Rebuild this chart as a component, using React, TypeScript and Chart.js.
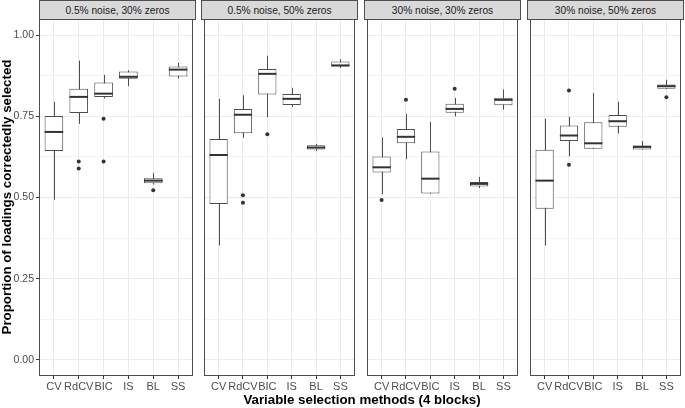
import React, { useEffect, useRef } from 'react';
import { Chart, registerables } from 'chart.js';

Chart.register(...registerables);

// ---------------- data ----------------
const methods = ['CV', 'RdCV', 'BIC', 'IS', 'BL', 'SS'];
const panelTitles = [
  '0.5% noise, 30% zeros',
  '0.5% noise, 50% zeros',
  '30% noise, 30% zeros',
  '30% noise, 50% zeros',
];
const yMajorTicks = [0, 0.25, 0.5, 0.75, 1];
const yMinorTicks = [0.125, 0.375, 0.625, 0.875];

// Panel 1: 0.5% noise, 30% zeros
const p1Low = [0.493, 0.727, 0.805, 0.843, 0.54, 0.866];
const p1Q1 = [0.643, 0.76, 0.81, 0.866, 0.544, 0.873];
const p1Median = [0.702, 0.81, 0.82, 0.872, 0.552, 0.894];
const p1Q3 = [0.751, 0.835, 0.854, 0.888, 0.559, 0.904];
const p1High = [0.795, 0.922, 0.878, 0.892, 0.576, 0.915];
const p1OutlierMethod = ['RdCV', 'RdCV', 'BIC', 'BIC', 'BL'];
const p1OutlierValue = [0.611, 0.589, 0.743, 0.611, 0.522];

// Panel 2: 0.5% noise, 50% zeros
const p2Low = [0.352, 0.684, 0.748, 0.779, 0.643, 0.899];
const p2Q1 = [0.48, 0.698, 0.817, 0.785, 0.648, 0.904];
const p2Median = [0.631, 0.755, 0.881, 0.804, 0.654, 0.907];
const p2Q3 = [0.68, 0.773, 0.896, 0.819, 0.661, 0.919];
const p2High = [0.804, 0.815, 0.937, 0.838, 0.665, 0.926];
const p2OutlierMethod = ['RdCV', 'RdCV', 'BIC'];
const p2OutlierValue = [0.507, 0.484, 0.695];

// Panel 3: 30% noise, 30% zeros
const p3Low = [0.51, 0.618, 0.512, 0.75, 0.529, 0.771];
const p3Q1 = [0.577, 0.667, 0.512, 0.761, 0.534, 0.784];
const p3Median = [0.593, 0.687, 0.558, 0.773, 0.542, 0.801];
const p3Q3 = [0.626, 0.711, 0.642, 0.789, 0.548, 0.807];
const p3High = [0.685, 0.758, 0.733, 0.807, 0.563, 0.833];
const p3OutlierMethod = ['CV', 'RdCV', 'IS'];
const p3OutlierValue = [0.492, 0.801, 0.835];

// Panel 4: 30% noise, 50% zeros
const p4Low = [0.352, 0.627, 0.65, 0.697, 0.648, 0.835];
const p4Q1 = [0.465, 0.674, 0.65, 0.718, 0.648, 0.835];
const p4Median = [0.552, 0.691, 0.667, 0.735, 0.656, 0.843];
const p4Q3 = [0.647, 0.722, 0.732, 0.754, 0.66, 0.848];
const p4High = [0.743, 0.749, 0.822, 0.795, 0.674, 0.863];
const p4OutlierMethod = ['RdCV', 'RdCV', 'SS'];
const p4OutlierValue = [0.83, 0.601, 0.809];

const panels = [
  { low: p1Low, q1: p1Q1, med: p1Median, q3: p1Q3, high: p1High, om: p1OutlierMethod, ov: p1OutlierValue },
  { low: p2Low, q1: p2Q1, med: p2Median, q3: p2Q3, high: p2High, om: p2OutlierMethod, ov: p2OutlierValue },
  { low: p3Low, q1: p3Q1, med: p3Median, q3: p3Q3, high: p3High, om: p3OutlierMethod, ov: p3OutlierValue },
  { low: p4Low, q1: p4Q1, med: p4Median, q3: p4Q3, high: p4High, om: p4OutlierMethod, ov: p4OutlierValue },
];

// ---------------- layout ----------------
const FONT = '"Liberation Sans", Arial, sans-serif';
const PANEL_LEFTS = [39, 201, 364, 527];
const PANEL_W = 157;
const PANEL_TOP = 19;
const PANEL_BOTTOM = 376;
const H = 408;

const boxPlugin = {
  id: 'boxParts',
  beforeDatasetsDraw(chart: any) {
    const p = chart.options.plugins.boxParts.panel;
    const { ctx } = chart;
    const xs = chart.scales.x;
    const ys = chart.scales.y;
    ctx.save();
    ctx.strokeStyle = '#4D4D4D';
    ctx.lineWidth = 1;
    p.low.forEach((lo: number, i: number) => {
      const x = Math.round(xs.getPixelForValue(i + 1)) + 0.5;
      ctx.beginPath();
      ctx.moveTo(x, ys.getPixelForValue(lo));
      ctx.lineTo(x, ys.getPixelForValue(p.high[i]));
      ctx.stroke();
    });
    ctx.restore();
  },
  afterDatasetsDraw(chart: any) {
    const p = chart.options.plugins.boxParts.panel;
    const { ctx, chartArea } = chart;
    const ys = chart.scales.y;
    const meta = chart.getDatasetMeta(0);
    ctx.save();
    ctx.strokeStyle = '#333333';
    ctx.lineWidth = 2;
    meta.data.forEach((bar: any, i: number) => {
      const y = ys.getPixelForValue(p.med[i]);
      ctx.beginPath();
      ctx.moveTo(bar.x - bar.width / 2, y);
      ctx.lineTo(bar.x + bar.width / 2, y);
      ctx.stroke();
    });
    // panel border
    ctx.strokeStyle = '#4D4D4D';
    ctx.lineWidth = 1;
    ctx.strokeRect(
      Math.round(chartArea.left) + 0.5,
      Math.round(chartArea.top) + 0.5,
      Math.round(chartArea.right - chartArea.left) - 1,
      Math.round(chartArea.bottom - chartArea.top) - 1
    );
    ctx.restore();
  },
};

function Panel({ index }: { index: number }) {
  const ref = useRef<HTMLCanvasElement>(null);
  const yw = index === 0 ? 38 : 0;
  const canvasLeft = PANEL_LEFTS[index] - yw - 1;
  const canvasW = PANEL_W + yw + 2;

  useEffect(() => {
    const p = panels[index];
    const boxData = methods.map((_, i) => ({ x: i + 1, y: [p.q1[i], p.q3[i]] }));
    const outData = p.om.map((m, k) => ({ x: methods.indexOf(m) + 1, y: p.ov[k] }));
    const chart = new Chart(ref.current as HTMLCanvasElement, {
      type: 'bar',
      data: {
        datasets: [
          {
            type: 'bar',
            data: boxData as any,
            backgroundColor: '#FFFFFF',
            borderColor: '#4D4D4D',
            borderWidth: 1,
            borderSkipped: false,
            barPercentage: 0.75,
            categoryPercentage: 1,
          } as any,
          {
            type: 'scatter',
            data: outData as any,
            pointRadius: 2,
            pointBackgroundColor: '#333333',
            pointBorderWidth: 0,
            backgroundColor: '#333333',
          } as any,
        ],
      },
      options: {
        responsive: false,
        animation: false,
        events: [],
        layout: { padding: { top: PANEL_TOP, left: 1, right: 1, bottom: 0 } },
        plugins: {
          legend: { display: false },
          tooltip: { enabled: false },
          boxParts: { panel: p },
        } as any,
        scales: {
          x: {
            type: 'linear',
            min: 0.4,
            max: 6.6,
            offset: false,
            afterBuildTicks: (s: any) => {
              s.ticks = methods.map((_, i) => ({ value: i + 1 }));
            },
            afterFit: (s: any) => {
              s.height = H - PANEL_BOTTOM;
            },
            ticks: {
              autoSkip: false,
              maxRotation: 0,
              padding: 1,
              color: '#4D4D4D',
              font: { family: FONT, size: 11 },
              callback: (v: any) => methods[Math.round(Number(v)) - 1],
            },
            grid: { offset: false, color: '#EBEBEB', tickLength: 3, tickColor: '#333333', drawTicks: true },
            border: { display: false },
          },
          y: {
            type: 'linear',
            min: -0.05,
            max: 1.05,
            afterBuildTicks: (s: any) => {
              s.ticks = [...yMajorTicks, ...yMinorTicks].sort((a, b) => a - b).map((v) => ({ value: v }));
            },
            afterFit: (s: any) => {
              s.width = yw;
            },
            ticks: {
              display: index === 0,
              autoSkip: false,
              padding: 2,
              color: '#4D4D4D',
              font: { family: FONT, size: 10.5 },
              callback: (v: any) => (yMajorTicks.includes(Number(v)) ? Number(v).toFixed(2) : ''),
            },
            grid: {
              color: (c: any) => (yMajorTicks.includes(c.tick?.value) ? '#EBEBEB' : '#F3F3F3'),
              drawTicks: index === 0,
              tickLength: 3,
              tickColor: (c: any) => (yMajorTicks.includes(c.tick?.value) ? '#333333' : 'rgba(0,0,0,0)'),
            },
            border: { display: false },
          },
        },
      } as any,
      plugins: [boxPlugin],
    });
    return () => chart.destroy();
  }, [index]);

  return (
    <>
      <div
        style={{
          position: 'absolute',
          left: PANEL_LEFTS[index],
          top: 0,
          width: PANEL_W,
          height: PANEL_TOP + 1,
          boxSizing: 'border-box',
          background: '#D9D9D9',
          border: '1px solid #4D4D4D',
          display: 'flex',
          alignItems: 'center',
          justifyContent: 'center',
          fontFamily: FONT,
          fontSize: 10.2,
          color: '#1A1A1A',
          whiteSpace: 'nowrap',
        }}
      >
        {panelTitles[index]}
      </div>
      <canvas
        ref={ref}
        width={canvasW}
        height={H}
        style={{ position: 'absolute', left: canvasLeft, top: 0, width: canvasW, height: H }}
      />
    </>
  );
}

export default function App() {
  return (
    <div
      style={{
        position: 'fixed',
        left: 0,
        top: 0,
        width: 685,
        height: 408,
        background: '#FFFFFF',
        overflow: 'hidden',
      }}
    >
      {[0, 1, 2, 3].map((i) => (
        <Panel key={i} index={i} />
      ))}
      <div
        style={{
          position: 'absolute',
          left: 6.5 - 200,
          top: 197 - 8,
          width: 400,
          height: 16,
          lineHeight: '16px',
          textAlign: 'center',
          transform: 'rotate(-90deg)',
          fontFamily: FONT,
          fontWeight: 'bold',
          fontSize: 13.3,
          color: '#000000',
          whiteSpace: 'nowrap',
        }}
      >
        Proportion of loadings correctedly selected
      </div>
      <div
        style={{
          position: 'absolute',
          left: 362 - 200,
          top: 392,
          width: 400,
          height: 16,
          lineHeight: '16px',
          textAlign: 'center',
          fontFamily: FONT,
          fontWeight: 'bold',
          fontSize: 13.3,
          color: '#000000',
          whiteSpace: 'nowrap',
        }}
      >
        Variable selection methods (4 blocks)
      </div>
    </div>
  );
}
